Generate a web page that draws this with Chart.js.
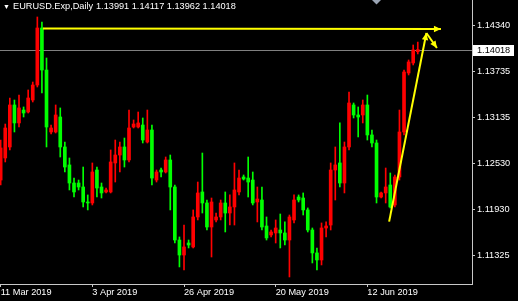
<!DOCTYPE html>
<html>
<head>
<meta charset="utf-8">
<script src="https://cdn.jsdelivr.net/npm/chart.js@4.4.0/dist/chart.umd.min.js"></script>
<style>
  html, body { margin: 0; padding: 0; background: #000; }
  #wrap { position: relative; width: 518px; height: 301px; overflow: hidden; }
  #chart { position: absolute; left: 0; top: 0; }
  .hdr { position: absolute; top: 1px; color: #fff; font: 9.2px "Liberation Sans", Arial, sans-serif; line-height: 11px; white-space: pre; }
  #tri { left: 3px; top: 1px; font-size: 7px; }
</style>
</head>
<body>
<div id="wrap">
  <canvas id="chart" width="518" height="301"></canvas>
  <span class="hdr" id="tri">▼</span>
  <span class="hdr" id="sym" style="left:13px"></span>
  <span class="hdr" id="ohlc" style="left:96px"></span>
</div>
<script>
// EURUSD daily bars (index 0 = 11 Mar 2019)
const opens = [
  1.12314, 1.12602, 1.12746, 1.13295, 1.13060, 1.13229, 1.13203, 1.13360, 1.13556, 1.14301,
  1.13752, 1.12942, 1.12942, 1.13138, 1.12746, 1.12511, 1.12275, 1.12275, 1.12223, 1.12027,
  1.12014, 1.12445, 1.12223, 1.12158, 1.12158, 1.12537, 1.12641, 1.12746, 1.12576, 1.13007,
  1.13007, 1.13033, 1.12811, 1.12968, 1.12314, 1.12445, 1.12419, 1.12576, 1.12223, 1.11530,
  1.11334, 1.11491, 1.11439, 1.11831, 1.12158, 1.12014, 1.11700, 1.11792, 1.11831, 1.12014,
  1.11883, 1.11962, 1.12158, 1.12354, 1.12340, 1.12314, 1.12027, 1.12053, 1.11713, 1.11596,
  1.11622, 1.11661, 1.11622, 1.11530, 1.11792, 1.12092, 1.12079, 1.11923, 1.11661, 1.11361,
  1.11269, 1.11687, 1.11726, 1.12445, 1.12537, 1.12275, 1.12746, 1.13295, 1.13164, 1.13164,
  1.13295, 1.12903, 1.12798, 1.12092, 1.12145, 1.12249, 1.11988, 1.12354, 1.12942, 1.13713,
  1.13844, 1.13991
];
const highs = [
  1.12837, 1.13046, 1.13386, 1.13360, 1.13425, 1.13269, 1.13491, 1.13595, 1.14445, 1.14379,
  1.13909, 1.13033, 1.13295, 1.13256, 1.12811, 1.12602, 1.12340, 1.12314, 1.12484, 1.12119,
  1.12537, 1.12484, 1.12275, 1.12210, 1.12707, 1.12837, 1.12811, 1.12863, 1.13229, 1.13099,
  1.13203, 1.13125, 1.13229, 1.13033, 1.12445, 1.12471, 1.12615, 1.12641, 1.12249, 1.11570,
  1.11726, 1.11530, 1.11923, 1.12288, 1.12667, 1.12053, 1.12079, 1.11883, 1.12053, 1.12158,
  1.12119, 1.12537, 1.12445, 1.12380, 1.12615, 1.12419, 1.12223, 1.12223, 1.11831, 1.11661,
  1.11792, 1.11870, 1.11766, 1.11857, 1.12119, 1.12119, 1.12145, 1.11949, 1.11687, 1.11426,
  1.11753, 1.11766, 1.12537, 1.12746, 1.13060, 1.12811, 1.13465, 1.13321, 1.13269, 1.13360,
  1.13425, 1.12968, 1.12837, 1.12158, 1.12471, 1.12406, 1.12380, 1.13229, 1.13752, 1.13883,
  1.14079, 1.14117
];
const lows = [
  1.12249, 1.12550, 1.12707, 1.12942, 1.13007, 1.13138, 1.13190, 1.13334, 1.13530, 1.13452,
  1.12746, 1.12916, 1.12929, 1.12615, 1.12419, 1.12184, 1.12092, 1.12184, 1.11962, 1.11923,
  1.11988, 1.12092, 1.12079, 1.12145, 1.12145, 1.12288, 1.12419, 1.12484, 1.12550, 1.12994,
  1.12994, 1.12798, 1.12798, 1.12249, 1.12288, 1.12354, 1.12406, 1.11923, 1.11491, 1.11178,
  1.11138, 1.11426, 1.11426, 1.11792, 1.11883, 1.11661, 1.11308, 1.11766, 1.11792, 1.11635,
  1.11726, 1.11726, 1.12119, 1.12314, 1.12092, 1.11988, 1.11766, 1.11661, 1.11530, 1.11570,
  1.11491, 1.11426, 1.11465, 1.11047, 1.11753, 1.12027, 1.11857, 1.11635, 1.11230, 1.11138,
  1.11204, 1.11570, 1.11661, 1.12053, 1.12223, 1.12145, 1.12707, 1.13125, 1.12877, 1.13060,
  1.12837, 1.12746, 1.12014, 1.12079, 1.12014, 1.11949, 1.11962, 1.12314, 1.12903, 1.13687,
  1.13818, 1.13962
];
const closes = [
  1.12733, 1.12994, 1.13295, 1.13060, 1.13256, 1.13190, 1.13386, 1.13556, 1.14301, 1.13752,
  1.13007, 1.12994, 1.13164, 1.12746, 1.12484, 1.12275, 1.12158, 1.12223, 1.12027, 1.12014,
  1.12419, 1.12210, 1.12145, 1.12184, 1.12550, 1.12641, 1.12746, 1.12576, 1.12994, 1.13046,
  1.13060, 1.12837, 1.12968, 1.12340, 1.12419, 1.12419, 1.12576, 1.12223, 1.11530, 1.11334,
  1.11439, 1.11465, 1.11831, 1.12145, 1.12014, 1.11700, 1.12027, 1.11831, 1.12014, 1.11883,
  1.11962, 1.12184, 1.12340, 1.12327, 1.12288, 1.12014, 1.12066, 1.11700, 1.11557, 1.11635,
  1.11687, 1.11622, 1.11530, 1.11831, 1.12053, 1.12053, 1.11923, 1.11661, 1.11361, 1.11269,
  1.11687, 1.11713, 1.12445, 1.12511, 1.12275, 1.12746, 1.13321, 1.13164, 1.13138, 1.13295,
  1.12903, 1.12798, 1.12092, 1.12145, 1.12223, 1.11962, 1.12354, 1.12942, 1.13726, 1.13857,
  1.14014, 1.14018
];

const dateTickIdx = [0, 20, 40, 60, 80];
const dateLabels = ['11 Mar 2019', '3 Apr 2019', '26 Apr 2019', '20 May 2019', '12 Jun 2019'];
const priceTicks = [1.14340, 1.13735, 1.13135, 1.12530, 1.11930, 1.11325];
const priceRange = [1.10955, 1.14667];
const barRange = [-0.146, 102.83];

// hand-drawn trend arrows (bar index, price)
const levelArrow = [[9.25, 1.14295], [96.05, 1.14288]];
const impulseArrow = [[84.75, 1.11770], [92.88, 1.14236]];
const pullbackArrow = [[92.88, 1.14236], [95.18, 1.14040]];

const symbol = 'EURUSD.Exp,Daily';
const last = closes.length - 1;
const lastPrice = closes[last];

document.getElementById('sym').textContent = symbol;
document.getElementById('ohlc').textContent =
  [opens[last], highs[last], lows[last], closes[last]].map(v => v.toFixed(5)).join(' ');

const BULL = '#ff0000';
const BEAR = '#00ff00';
const YELLOW = '#ffff00';
const AXIS = '#c8c8c8';
const FONT = { family: '"Liberation Sans", Arial, sans-serif', size: 9.2 };

const candleColors = closes.map((c, i) => c >= opens[i] ? BULL : BEAR);
const wickData = closes.map((c, i) => ({ x: i, y: [lows[i], highs[i]] }));
const bodyData = closes.map((c, i) => ({ x: i, y: [opens[i], c] }));
const toPts = arr => arr.map(p => ({ x: p[0], y: p[1] }));

function arrowLine(pts) {
  return {
    type: 'line', data: toPts(pts), borderColor: YELLOW, borderWidth: 2,
    pointRadius: 0, fill: false, tension: 0, order: 0, arrow: true
  };
}

const mtOverlay = {
  id: 'mtOverlay',
  beforeDatasetsDraw(chart) {
    const { ctx, chartArea: a, scales: { y } } = chart;
    const py = Math.round(y.getPixelForValue(lastPrice)) + 0.5;
    ctx.save();
    ctx.strokeStyle = '#808080';
    ctx.lineWidth = 1;
    ctx.beginPath();
    ctx.moveTo(a.left, py);
    ctx.lineTo(a.right, py);
    ctx.stroke();
    ctx.restore();
  },
  afterDraw(chart) {
    const { ctx, chartArea: a, scales: { y } } = chart;
    ctx.save();
    // arrowheads at the end of each yellow line
    chart.data.datasets.forEach((ds, di) => {
      if (!ds.arrow) return;
      const pts = chart.getDatasetMeta(di).data;
      const p1 = pts[pts.length - 2], p2 = pts[pts.length - 1];
      const ang = Math.atan2(p2.y - p1.y, p2.x - p1.x);
      const len = 7, half = 3.2;
      ctx.fillStyle = YELLOW;
      ctx.beginPath();
      ctx.moveTo(p2.x, p2.y);
      ctx.lineTo(p2.x - len * Math.cos(ang) + half * Math.sin(ang), p2.y - len * Math.sin(ang) - half * Math.cos(ang));
      ctx.lineTo(p2.x - len * Math.cos(ang) - half * Math.sin(ang), p2.y - len * Math.sin(ang) + half * Math.cos(ang));
      ctx.closePath();
      ctx.fill();
    });
    // current price tag on the price axis
    const py = Math.round(y.getPixelForValue(lastPrice));
    ctx.fillStyle = '#fff';
    ctx.fillRect(a.right + 1, py - 5, 41, 11);
    ctx.fillStyle = '#000';
    ctx.font = `${FONT.size}px ${FONT.family}`;
    ctx.textBaseline = 'middle';
    ctx.textAlign = 'left';
    ctx.fillText(lastPrice.toFixed(5), a.right + 5, py + 0.5);
    // chart shift marker
    ctx.fillStyle = '#9aa4b4';
    ctx.beginPath();
    ctx.moveTo(a.left + 372, 0);
    ctx.lineTo(a.left + 381, 0);
    ctx.lineTo(a.left + 376.5, 4.5);
    ctx.closePath();
    ctx.fill();
    ctx.restore();
  }
};

new Chart(document.getElementById('chart'), {
  type: 'bar',
  data: {
    datasets: [
      { data: wickData, backgroundColor: candleColors, barThickness: 1, grouped: false, order: 2 },
      { data: bodyData, backgroundColor: candleColors, barThickness: 3, grouped: false, minBarLength: 1, order: 1 },
      arrowLine(levelArrow),
      arrowLine(impulseArrow),
      arrowLine(pullbackArrow)
    ]
  },
  options: {
    responsive: false,
    animation: false,
    layout: { padding: 0 },
    plugins: { legend: { display: false }, tooltip: { enabled: false } },
    scales: {
      x: {
        type: 'linear',
        min: barRange[0], max: barRange[1],
        offset: false,
        grid: { drawOnChartArea: false, offset: false, color: AXIS, tickLength: 3 },
        border: { color: AXIS },
        ticks: {
          color: '#fff', font: FONT, align: 'start', padding: 0,
          autoSkip: false, maxRotation: 0,
          callback: (v, i) => dateLabels[i]
        },
        afterBuildTicks: s => { s.ticks = dateTickIdx.map(v => ({ value: v })); },
        afterFit: s => { s.height = 17; s.paddingLeft = 0; s.paddingRight = 0; }
      },
      y: {
        position: 'right',
        min: priceRange[0], max: priceRange[1],
        grid: { drawOnChartArea: false, color: AXIS, tickLength: 3 },
        border: { color: AXIS },
        ticks: { color: '#fff', font: FONT, padding: 2, callback: v => v.toFixed(5) },
        afterBuildTicks: s => { s.ticks = priceTicks.map(v => ({ value: v })); },
        afterFit: s => { s.width = 46; s.paddingTop = 0; s.paddingBottom = 0; }
      }
    }
  },
  plugins: [mtOverlay]
});
</script>
</body>
</html>
